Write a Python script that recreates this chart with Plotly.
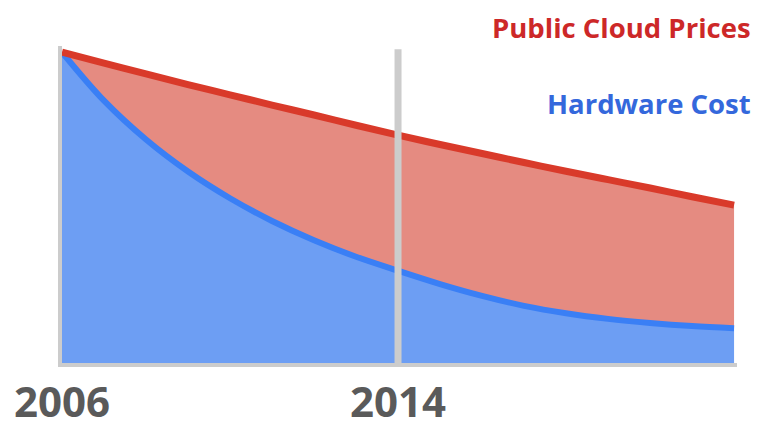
import plotly.graph_objects as go

years = [2006, 2007, 2008, 2009, 2010, 2011, 2012, 2013, 2014,
         2015, 2016, 2017, 2018, 2019, 2020, 2021, 2022]
hardware_cost = [100, 84.4, 71.9, 61.6, 53.0, 45.7, 39.5, 34.2, 29.7,
                 25.4, 21.6, 18.4, 16.0, 14.2, 12.9, 11.9, 11.2]
cloud_prices = [100, 96.5, 93, 89.6, 86.3, 83, 79.8, 76.5, 73.3,
                70.3, 67.4, 64.5, 61.7, 59, 56.3, 53.5, 50.8]
tick_years = [2006, 2014]
tick_labels = ["2006", "2014"]
marker_year = 2014
series_names = ["Hardware Cost", "Public Cloud Prices"]

BLUE_FILL = "rgb(109,158,243)"
BLUE_LINE = "rgb(58,127,245)"
RED_FILL = "rgb(229,139,129)"
RED_LINE = "rgb(217,58,42)"
GRAY = "rgb(204,204,204)"

fig = go.Figure()
fig.add_trace(go.Scatter(
    x=years, y=hardware_cost, mode="lines", fill="tozeroy",
    fillcolor=BLUE_FILL, line=dict(color=BLUE_LINE, width=6, shape="spline"),
    name=series_names[0], hoverinfo="skip"))
fig.add_trace(go.Scatter(
    x=years, y=cloud_prices, mode="lines", fill="tonexty",
    fillcolor=RED_FILL, line=dict(color=RED_LINE, width=7, shape="spline"),
    name=series_names[1], hoverinfo="skip"))

fig.add_shape(type="line", xref="x", yref="paper",
              x0=marker_year, x1=marker_year, y0=-0.005, y1=0.99,
              line=dict(color=GRAY, width=7), layer="above")

fig.add_annotation(text="<b>" + series_names[1] + "</b>", xref="paper", yref="paper",
                   x=1.024, y=1.057, xanchor="right", yanchor="middle", showarrow=False,
                   font=dict(family="Open Sans", size=27.5, color="rgb(205,40,40)"))
fig.add_annotation(text="<b>" + series_names[0] + "</b>", xref="paper", yref="paper",
                   x=1.024, y=0.82, xanchor="right", yanchor="middle", showarrow=False,
                   font=dict(family="Open Sans", size=27.5, color="rgb(52,104,220)"))

fig.update_layout(
    width=757, height=423,
    margin=dict(l=62, r=20, t=46, b=60, autoexpand=False),
    paper_bgcolor="white", plot_bgcolor="white",
    showlegend=False,
    xaxis=dict(range=[2006, 2022.07], tickvals=tick_years, ticktext=tick_labels,
               showgrid=False, zeroline=False, showline=True, linecolor=GRAY,
               linewidth=4, ticks="", ticklabelstandoff=0, automargin=False,
               tickfont=dict(family="Open Sans", size=42, color="rgb(90,90,90)", weight="bold")),
    yaxis=dict(range=[0, 102], showgrid=False, zeroline=False, showline=True,
               linecolor=GRAY, linewidth=4, showticklabels=False, ticks="",
               automargin=False),
)

fig.write_html("out.html")
